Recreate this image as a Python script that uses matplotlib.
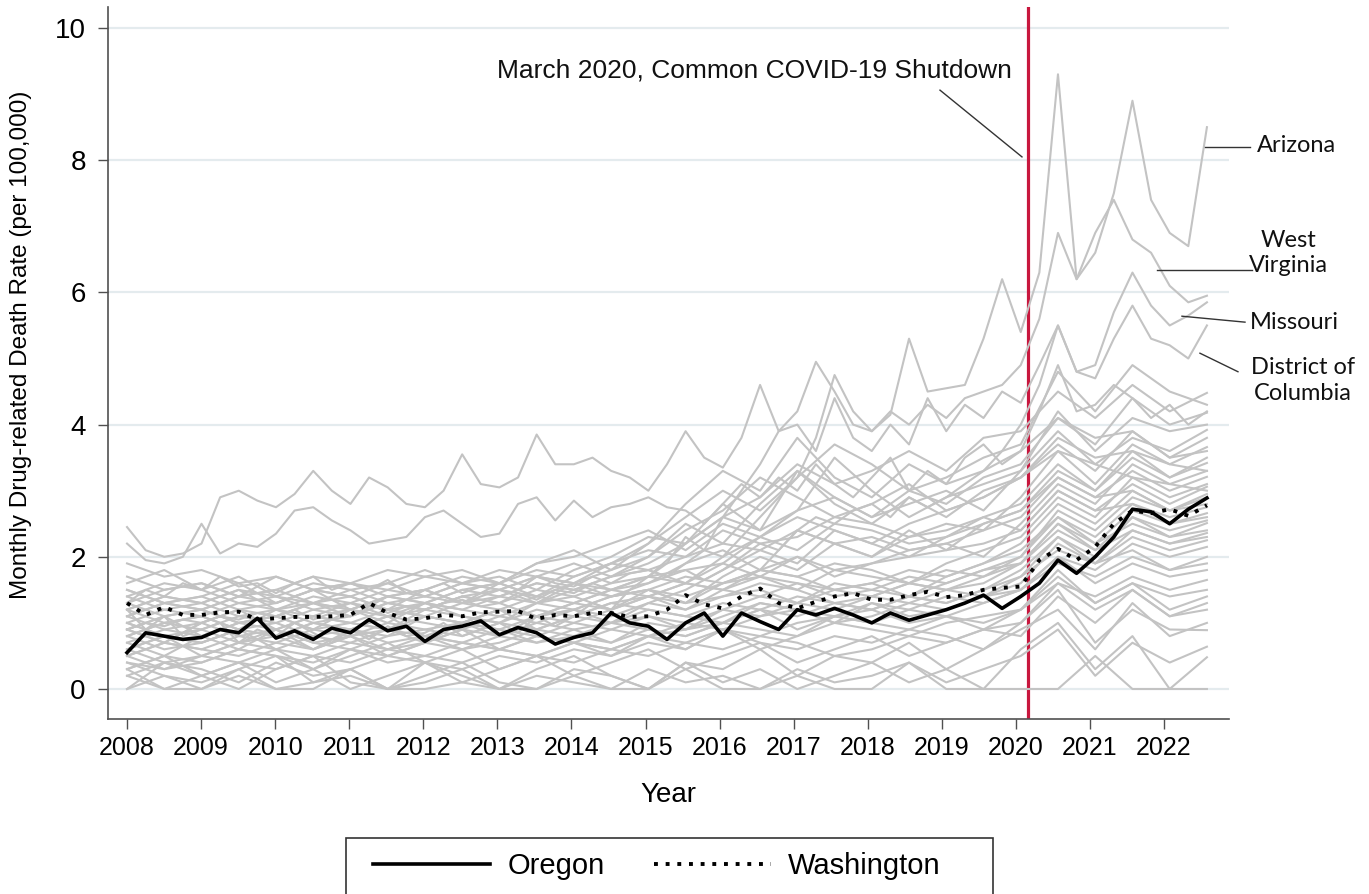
import numpy as np
import matplotlib
matplotlib.use("Agg")
import matplotlib.pyplot as plt
from matplotlib.lines import Line2D
from matplotlib.patches import Rectangle

plt.rcParams['font.family'] = ['Liberation Sans', 'DejaVu Sans']

# time grids: quarterly and half-yearly, Jan 2008 .. Aug 2022
t_q = 2008 + np.arange(59) * (14.58 / 58)
t_h = 2008 + np.arange(30) * (14.58 / 29)

oregon = [0.55, 0.85, 0.80, 0.75, 0.78, 0.90, 0.85, 1.07, 0.77, 0.88, 0.75, 0.92,
          0.85, 1.05, 0.88, 0.95, 0.72, 0.90, 0.95, 1.03, 0.82, 0.93, 0.85, 0.68,
          0.78, 0.85, 1.15, 1.00, 0.95, 0.75, 1.00, 1.15, 0.80, 1.15, 1.02, 0.90,
          1.20, 1.12, 1.22, 1.12, 1.00, 1.15, 1.04, 1.12, 1.20, 1.30, 1.42, 1.22,
          1.40, 1.60, 1.95, 1.75, 2.00, 2.30, 2.72, 2.68, 2.50, 2.72, 2.89]
washington = [1.30, 1.12, 1.24, 1.12, 1.12, 1.16, 1.17, 1.05, 1.07, 1.09, 1.09, 1.10,
              1.12, 1.30, 1.15, 1.05, 1.07, 1.12, 1.10, 1.16, 1.17, 1.18, 1.06, 1.12,
              1.10, 1.15, 1.15, 1.09, 1.10, 1.20, 1.42, 1.28, 1.22, 1.40, 1.52, 1.30,
              1.22, 1.32, 1.40, 1.45, 1.35, 1.35, 1.42, 1.47, 1.39, 1.42, 1.50, 1.53,
              1.55, 1.95, 2.12, 1.95, 2.15, 2.50, 2.70, 2.66, 2.72, 2.62, 2.78]

arizona = [1.30, 1.50, 1.40, 1.60, 1.50, 1.70, 1.55, 1.60, 1.45, 1.60, 1.70, 1.50,
           1.60, 1.50, 1.65, 1.45, 1.50, 1.60, 1.45, 1.55, 1.60, 1.50, 1.70, 1.60,
           1.55, 1.70, 1.60, 1.75, 1.80, 1.70, 1.90, 2.10, 2.00, 2.30, 2.60, 2.90,
           3.20, 3.80, 4.75, 4.20, 3.90, 4.15, 5.30, 4.50, 4.55, 4.60, 5.30, 6.20,
           5.40, 6.30, 9.30, 6.20, 6.60, 7.50, 8.90, 7.40, 6.90, 6.70, 8.50]
west_virginia = [2.45, 2.10, 2.00, 2.05, 2.20, 2.90, 3.00, 2.85, 2.75, 2.95, 3.30, 3.00,
                 2.80, 3.20, 3.05, 2.80, 2.75, 3.00, 3.55, 3.10, 3.05, 3.20, 3.85, 3.40,
                 3.40, 3.50, 3.30, 3.20, 3.00, 3.40, 3.90, 3.50, 3.35, 3.80, 4.60, 3.90,
                 4.20, 4.95, 4.50, 4.00, 3.90, 4.20, 4.00, 4.30, 4.10, 4.40, 4.50, 4.60,
                 4.90, 5.60, 6.90, 6.20, 6.90, 7.40, 6.80, 6.60, 6.10, 5.85, 5.95]
missouri = [0.90, 1.00, 0.95, 1.05, 1.00, 1.10, 1.05, 1.15, 1.10, 1.20, 1.05, 1.15,
            1.20, 1.30, 1.15, 1.25, 1.20, 1.30, 1.35, 1.25, 1.30, 1.45, 1.35, 1.50,
            1.45, 1.60, 1.50, 1.55, 1.60, 1.70, 1.80, 1.65, 1.80, 2.00, 2.20, 2.10,
            2.40, 2.60, 2.50, 2.70, 2.80, 2.60, 2.90, 2.75, 2.90, 3.10, 3.30, 3.60,
            4.00, 4.60, 5.50, 4.80, 4.90, 5.70, 6.30, 5.80, 5.50, 5.65, 5.85]
district_of_columbia = [1.20, 0.90, 1.10, 0.80, 0.90, 1.00, 0.70, 0.90, 0.80, 1.00, 0.85, 0.70,
                        0.90, 0.75, 0.95, 0.80, 0.85, 1.00, 0.80, 0.90, 1.00, 0.85, 1.10, 0.95,
                        1.10, 1.30, 1.20, 1.50, 1.70, 1.90, 2.30, 2.10, 2.60, 3.00, 3.40, 3.90,
                        4.00, 3.60, 4.40, 3.80, 3.60, 4.00, 3.70, 4.40, 3.90, 4.30, 4.10, 4.50,
                        4.33, 4.90, 5.50, 4.80, 4.70, 5.30, 5.80, 5.30, 5.20, 5.00, 5.50]
high_state = [2.20, 1.95, 1.90, 2.00, 2.50, 2.05, 2.20, 2.15, 2.35, 2.70, 2.75, 2.55,
              2.40, 2.20, 2.25, 2.30, 2.60, 2.70, 2.50, 2.30, 2.35, 2.80, 2.90, 2.55,
              2.85, 2.60, 2.75, 2.80, 2.90, 2.75, 2.70, 2.50, 2.80, 3.10, 2.90, 3.20,
              3.00, 3.40, 3.10, 2.90, 3.20, 3.50, 3.00, 3.30, 3.10, 3.50, 3.70, 3.40,
              3.60, 4.20, 4.90, 4.20, 4.30, 4.60, 4.40, 4.10, 4.30, 4.00, 4.20]

# remaining states, half-yearly values
other_states = [
    [1.2, 1.4, 1.3, 1.5, 1.4, 1.3, 1.5, 1.6, 1.4, 1.6, 1.7, 1.5, 1.8, 2.0, 2.3, 2.2, 2.6, 2.9, 3.4, 3.1, 3.3, 3.6, 3.3, 3.8, 3.9, 4.5, 4.1, 4.6, 4.2, 4.48],
    [1.0, 1.2, 1.1, 0.9, 1.2, 1.3, 1.1, 1.4, 1.5, 1.3, 1.6, 1.9, 2.1, 1.8, 2.2, 2.6, 3.0, 2.7, 3.2, 3.7, 3.4, 3.0, 3.2, 3.5, 3.7, 4.8, 4.2, 4.9, 4.5, 4.3],
    [1.7, 1.5, 1.6, 1.4, 1.5, 1.7, 1.6, 1.5, 1.7, 1.8, 1.6, 1.9, 2.0, 2.2, 2.4, 2.1, 2.5, 2.3, 2.7, 2.9, 2.6, 3.0, 2.8, 3.2, 3.4, 4.1, 3.7, 4.4, 4.0, 4.18],
    [0.8, 1.0, 0.9, 1.1, 1.0, 1.2, 1.1, 1.3, 1.2, 1.4, 1.5, 1.3, 1.6, 1.8, 2.0, 2.5, 2.2, 2.8, 3.3, 2.9, 2.6, 2.8, 3.0, 2.7, 3.3, 4.2, 3.6, 4.1, 3.9, 4.0],
    [1.5, 1.3, 1.4, 1.6, 1.3, 1.5, 1.4, 1.2, 1.5, 1.3, 1.4, 1.6, 1.5, 1.7, 1.9, 2.2, 2.8, 2.4, 2.7, 3.5, 3.0, 2.6, 2.9, 3.1, 3.3, 3.9, 3.4, 3.8, 3.6, 3.92],
    [0.6, 0.8, 0.7, 0.9, 0.8, 1.0, 0.9, 0.8, 1.1, 1.0, 1.2, 1.1, 1.3, 1.5, 1.7, 1.6, 1.9, 2.3, 2.6, 2.4, 2.2, 2.5, 2.7, 2.9, 3.2, 3.7, 3.3, 3.9, 3.5, 3.8],
    [1.3, 1.1, 1.2, 1.0, 1.1, 1.3, 1.2, 1.4, 1.3, 1.2, 1.4, 1.3, 1.5, 1.4, 1.6, 1.9, 2.1, 1.8, 2.4, 2.2, 2.0, 2.3, 2.5, 2.4, 2.9, 3.6, 3.1, 3.7, 3.4, 3.66],
    [0.9, 0.7, 1.0, 0.8, 0.9, 1.1, 1.0, 0.9, 1.2, 1.1, 1.0, 1.3, 1.2, 1.4, 1.5, 1.3, 1.7, 2.0, 1.8, 2.2, 2.0, 2.4, 2.1, 2.5, 2.7, 3.3, 3.0, 3.6, 3.2, 3.5],
    [1.1, 1.3, 1.4, 1.2, 1.3, 1.5, 1.6, 1.4, 1.5, 1.7, 1.6, 1.8, 1.7, 1.9, 2.1, 2.0, 2.4, 2.2, 2.3, 2.6, 2.5, 2.3, 2.4, 2.6, 2.8, 3.4, 3.0, 3.5, 3.2, 3.42],
    [0.5, 0.7, 0.6, 0.8, 0.7, 0.6, 0.8, 0.9, 0.7, 1.0, 0.9, 1.1, 1.0, 1.2, 1.4, 1.3, 1.6, 1.8, 2.0, 1.7, 1.9, 2.1, 2.2, 2.0, 2.5, 3.1, 2.8, 3.4, 3.1, 3.3],
    [1.9, 1.7, 1.8, 1.6, 1.7, 1.5, 1.6, 1.8, 1.7, 1.6, 1.8, 1.7, 1.6, 1.9, 1.8, 2.0, 2.2, 2.1, 2.4, 2.2, 2.3, 2.1, 2.2, 2.4, 2.6, 3.2, 2.9, 3.3, 3.0, 3.21],
    [0.7, 0.9, 0.8, 1.0, 1.1, 0.9, 1.0, 1.2, 1.1, 1.0, 1.2, 1.1, 1.3, 1.2, 1.4, 1.6, 1.5, 1.8, 1.7, 1.9, 1.8, 1.6, 1.9, 2.1, 2.3, 2.9, 2.6, 3.2, 2.9, 3.1],
    [1.4, 1.6, 1.5, 1.3, 1.4, 1.2, 1.3, 1.5, 1.4, 1.3, 1.5, 1.4, 1.6, 1.5, 1.7, 1.8, 1.9, 1.7, 2.0, 1.8, 1.9, 2.0, 2.1, 2.2, 2.4, 3.0, 2.7, 3.1, 2.8, 3.06],
    [1.0, 0.8, 0.9, 0.7, 0.8, 1.0, 0.9, 1.1, 1.0, 0.9, 1.1, 1.0, 1.2, 1.1, 1.3, 1.2, 1.4, 1.5, 1.3, 1.6, 1.5, 1.4, 1.6, 1.8, 2.0, 2.7, 2.4, 2.9, 2.7, 2.95],
    [0.3, 0.5, 0.4, 0.6, 0.5, 0.4, 0.6, 0.5, 0.7, 0.6, 0.8, 0.7, 0.9, 1.0, 1.1, 0.9, 1.2, 1.4, 1.3, 1.5, 1.6, 1.4, 1.7, 1.9, 2.2, 2.8, 2.5, 3.0, 2.7, 2.9],
    [1.6, 1.8, 1.5, 1.7, 1.4, 1.6, 1.5, 1.3, 1.4, 1.6, 1.5, 1.7, 1.6, 1.4, 1.5, 1.7, 1.6, 1.8, 1.7, 1.5, 1.6, 1.8, 1.7, 1.9, 2.1, 2.6, 2.3, 2.8, 2.6, 2.75],
    [0.8, 0.6, 0.7, 0.9, 0.6, 0.8, 0.7, 0.9, 0.8, 0.7, 0.9, 0.8, 1.0, 0.9, 1.1, 1.0, 1.2, 1.1, 1.3, 1.2, 1.4, 1.3, 1.5, 1.6, 1.9, 2.5, 2.2, 2.7, 2.5, 2.66],
    [1.2, 1.0, 1.1, 1.3, 1.2, 1.1, 1.3, 1.2, 1.1, 1.3, 1.2, 1.4, 1.3, 1.5, 1.4, 1.6, 1.5, 1.4, 1.6, 1.5, 1.4, 1.6, 1.5, 1.7, 1.9, 2.4, 2.1, 2.6, 2.4, 2.55],
    [0.4, 0.3, 0.5, 0.4, 0.3, 0.5, 0.4, 0.6, 0.5, 0.4, 0.6, 0.5, 0.7, 0.6, 0.8, 0.9, 1.0, 1.2, 1.1, 1.3, 1.2, 1.4, 1.3, 1.5, 1.8, 2.3, 2.0, 2.6, 2.3, 2.51],
    [1.5, 1.3, 1.2, 1.4, 1.3, 1.5, 1.2, 1.1, 1.3, 1.2, 1.1, 1.3, 1.4, 1.2, 1.5, 1.4, 1.6, 1.7, 1.5, 1.8, 1.7, 1.6, 1.8, 1.7, 2.0, 2.6, 2.2, 2.5, 2.3, 2.4],
    [0.6, 0.4, 0.5, 0.7, 0.6, 0.5, 0.7, 0.6, 0.8, 0.7, 0.6, 0.8, 0.7, 0.9, 0.8, 1.0, 0.9, 1.1, 1.2, 1.0, 1.3, 1.1, 1.2, 1.4, 1.6, 2.2, 1.9, 2.4, 2.2, 2.36],
    [1.1, 0.9, 1.0, 1.2, 0.9, 1.1, 1.0, 0.9, 1.1, 1.0, 1.2, 0.9, 1.1, 1.3, 1.2, 1.1, 1.3, 1.2, 1.4, 1.3, 1.2, 1.4, 1.3, 1.5, 1.7, 2.1, 1.9, 2.3, 2.1, 2.25],
    [0.2, 0.4, 0.3, 0.1, 0.4, 0.2, 0.3, 0.5, 0.4, 0.3, 0.5, 0.4, 0.6, 0.5, 0.7, 0.6, 0.9, 0.8, 1.0, 1.1, 1.2, 1.0, 1.1, 1.3, 1.5, 2.0, 1.8, 2.2, 2.0, 2.15],
    [0.9, 1.1, 0.8, 1.0, 0.9, 0.7, 0.8, 1.0, 0.9, 0.8, 1.0, 0.9, 1.1, 1.0, 1.2, 1.1, 1.0, 1.3, 1.2, 1.1, 1.3, 1.2, 1.4, 1.3, 1.5, 1.9, 1.7, 2.0, 1.8, 1.9],
    [0.5, 0.3, 0.4, 0.6, 0.5, 0.3, 0.6, 0.4, 0.5, 0.7, 0.6, 0.5, 0.7, 0.6, 0.8, 0.7, 0.9, 0.6, 0.8, 1.0, 0.9, 0.8, 1.0, 1.1, 1.2, 1.6, 1.4, 1.7, 1.5, 1.65],
    [1.0, 0.8, 0.7, 0.9, 0.8, 0.6, 0.9, 0.7, 0.8, 0.6, 0.7, 0.9, 0.8, 0.7, 0.9, 0.8, 1.0, 0.9, 0.8, 1.1, 1.0, 0.9, 1.1, 1.0, 1.2, 1.7, 1.3, 1.6, 1.4, 1.5],
    [0.3, 0.0, 0.2, 0.4, 0.1, 0.3, 0.0, 0.2, 0.4, 0.1, 0.3, 0.5, 0.2, 0.4, 0.6, 0.3, 0.5, 0.7, 0.4, 0.6, 0.8, 0.5, 0.7, 0.9, 0.8, 1.4, 1.0, 1.5, 1.1, 1.2],
    [0.0, 0.4, 0.2, 0.0, 0.3, 0.5, 0.1, 0.0, 0.4, 0.2, 0.0, 0.3, 0.5, 0.2, 0.0, 0.4, 0.3, 0.6, 0.2, 0.5, 0.4, 0.7, 0.3, 0.6, 0.9, 1.2, 0.6, 1.3, 0.8, 1.0],
    [0.6, 0.8, 0.5, 0.7, 0.9, 0.6, 0.8, 0.5, 0.7, 0.9, 0.6, 0.8, 0.7, 0.5, 0.8, 0.6, 0.9, 0.7, 0.6, 0.8, 0.7, 0.9, 0.8, 0.6, 1.0, 1.5, 0.7, 1.2, 0.9, 0.89],
    [0.0, 0.2, 0.1, 0.3, 0.0, 0.1, 0.2, 0.0, 0.1, 0.3, 0.0, 0.2, 0.1, 0.0, 0.3, 0.1, 0.2, 0.0, 0.3, 0.1, 0.2, 0.4, 0.1, 0.3, 0.5, 0.9, 0.2, 0.7, 0.4, 0.64],
    [0.4, 0.2, 0.0, 0.3, 0.5, 0.1, 0.3, 0.0, 0.2, 0.4, 0.1, 0.0, 0.3, 0.2, 0.0, 0.4, 0.1, 0.3, 0.0, 0.2, 0.4, 0.1, 0.3, 0.0, 0.6, 1.0, 0.3, 0.8, 0.0, 0.48],
    [0.2, 0.0, 0.0, 0.2, 0.0, 0.0, 0.3, 0.0, 0.0, 0.1, 0.0, 0.0, 0.2, 0.0, 0.0, 0.3, 0.0, 0.0, 0.2, 0.0, 0.0, 0.4, 0.0, 0.0, 0.0, 0.0, 0.5, 0.0, 0.0, 0.0],
    [1.3, 1.5, 1.6, 1.4, 1.7, 1.5, 1.4, 1.6, 1.8, 1.6, 1.5, 1.7, 1.9, 1.7, 2.0, 2.4, 2.7, 3.2, 2.9, 2.6, 2.8, 3.1, 2.7, 2.9, 3.2, 3.8, 3.5, 3.6, 3.4, 3.3],
    [0.7, 0.5, 0.8, 0.6, 0.9, 0.7, 0.6, 0.8, 0.9, 1.0, 0.8, 1.1, 1.2, 1.0, 1.3, 1.5, 1.8, 2.1, 1.9, 2.4, 2.2, 2.0, 2.3, 2.5, 2.7, 3.2, 2.9, 3.0, 2.7, 2.8],
    [0.8, 1.0, 1.1, 0.9, 1.0, 0.8, 0.9, 1.1, 0.8, 1.0, 0.9, 0.7, 0.8, 1.0, 0.9, 0.8, 1.0, 1.2, 0.9, 1.1, 1.0, 1.2, 1.1, 0.9, 1.2, 1.8, 1.3, 1.6, 1.2, 1.4],
    [1.2, 1.4, 1.3, 1.1, 1.2, 1.0, 1.1, 1.3, 1.2, 1.4, 1.3, 1.1, 1.2, 1.4, 1.5, 1.3, 1.4, 1.6, 1.5, 1.3, 1.4, 1.6, 1.5, 1.4, 1.7, 2.3, 1.9, 2.1, 1.8, 2.0],
    [0.9, 1.1, 1.2, 1.0, 1.1, 1.3, 1.2, 1.4, 1.3, 1.5, 1.6, 1.4, 1.7, 1.9, 2.2, 2.8, 3.3, 3.0, 3.8, 3.2, 2.9, 3.4, 3.1, 3.3, 3.6, 4.1, 3.8, 3.9, 3.5, 3.6],
    [0.5, 0.7, 0.6, 0.5, 0.7, 0.9, 0.8, 0.6, 0.7, 0.9, 0.8, 1.0, 0.9, 0.7, 1.0, 0.9, 1.1, 1.3, 1.2, 1.0, 1.1, 1.3, 1.2, 1.4, 1.5, 2.0, 1.6, 1.9, 1.7, 1.8],
    [1.1, 1.3, 1.2, 1.4, 1.5, 1.3, 1.4, 1.2, 1.3, 1.5, 1.4, 1.6, 1.5, 1.7, 1.8, 1.6, 2.0, 2.3, 2.1, 2.5, 2.4, 2.2, 2.3, 2.6, 2.4, 3.0, 2.7, 2.8, 2.5, 2.6],
    [0.3, 0.5, 0.2, 0.4, 0.6, 0.3, 0.5, 0.7, 0.4, 0.6, 0.3, 0.5, 0.4, 0.6, 0.5, 0.7, 0.6, 0.8, 0.7, 0.5, 0.6, 0.8, 0.7, 0.9, 1.0, 1.6, 1.2, 1.5, 1.1, 1.3],
    [1.4, 1.2, 1.3, 1.5, 1.2, 1.4, 1.3, 1.1, 1.2, 1.4, 1.3, 1.5, 1.4, 1.6, 1.7, 2.2, 2.6, 2.4, 3.3, 2.8, 2.5, 2.9, 2.6, 3.0, 3.2, 3.6, 3.4, 3.2, 3.1, 3.0],
    [0.9, 0.7, 1.0, 1.2, 1.1, 0.9, 1.2, 1.0, 1.3, 1.1, 1.0, 1.2, 1.1, 1.3, 1.4, 1.2, 1.5, 1.7, 1.6, 1.4, 1.5, 1.7, 1.6, 1.8, 1.9, 2.5, 2.1, 2.4, 2.2, 2.3],
]

year_ticks = list(range(2008, 2023))
rate_ticks = [0, 2, 4, 6, 8, 10]
shutdown = 2020 + 2 / 12

W, H = 1369, 894
fig = plt.figure(figsize=(W / 100, H / 100), dpi=100)
ax = fig.add_axes([108 / W, 1 - 719 / H, (1229 - 108) / W, (719 - 7) / H])

for r in rate_ticks:
    ax.axhline(r, color='#E4EBEE', lw=1.6, zorder=0)
ax.axvline(shutdown, color='#C8173E', lw=2.3, zorder=1)

gray = '#C3C3C3'
for vals in other_states:
    ax.plot(t_h, vals, color=gray, lw=1.5, zorder=2)
for vals in [high_state, district_of_columbia, missouri, west_virginia, arizona]:
    ax.plot(t_q, vals, color=gray, lw=1.5, zorder=2)

ax.plot(t_q, oregon, color='black', lw=2.6, zorder=4)
ax.plot(t_q, washington, color='black', lw=2.8, ls=(0, (1, 2.0)), zorder=4)

ax.set_xlim(2007.743, 2022.878)
ax.set_ylim(-0.454, 10.318)
ax.set_xticks(year_ticks)
ax.set_yticks(rate_ticks)
for s in ['top', 'right']:
    ax.spines[s].set_visible(False)
for s in ['left', 'bottom']:
    ax.spines[s].set_color('#505050')
    ax.spines[s].set_linewidth(1.2)
ax.tick_params(axis='x', length=7, width=1, color='#505050', labelsize=18, pad=5)
ax.tick_params(axis='y', length=7, width=1, color='#505050', labelsize=20, pad=9)

ax.set_xlabel('Year', fontsize=20)
ax.xaxis.set_label_coords(0.5, -0.088)
ax.set_ylabel('Monthly Drug-related Death Rate (per 100,000)', fontsize=17.5)
ax.yaxis.set_label_coords(-0.068, 0.525)

# annotations
ann = dict(color='#333333', lw=1.0, clip_on=False, zorder=5)
ax.text(2019.95, 9.36, 'March 2020, Common COVID-19 Shutdown', fontsize=19,
        ha='right', va='center', color='#111111')
ax.plot([2018.976, 2020.083], [9.06, 8.05], **ann)

lab = dict(family=['Lato', 'DejaVu Sans'], fontsize=17, color='#111111', va='center')
ax.plot([2022.554, 2023.16], [8.2, 8.2], **ann)
ax.text(2023.256, 8.23, 'Arizona', ha='left', **lab)
ax.plot([2021.906, 2023.19], [6.34, 6.34], **ann)
ax.text(2023.68, 6.6, 'West\nVirginia', ha='center', linespacing=1.25, **lab)
ax.plot([2022.243, 2023.094], [5.64, 5.55], **ann)
ax.text(2023.16, 5.55, 'Missouri', ha='left', **lab)
ax.plot([2022.486, 2022.999], [5.08, 4.80], **ann)
ax.text(2023.88, 4.67, 'District of\nColumbia', ha='center', linespacing=1.3, **lab)

# legend, box runs off the bottom edge
fig.patches.append(Rectangle((346 / W, -0.05), (993 - 346) / W, 0.05 + 1 - 838 / H,
                             transform=fig.transFigure, fill=False, ec='#333333', lw=1.2))
handles = [Line2D([], [], color='black', lw=2.6),
           Line2D([], [], color='black', lw=2.8, ls=(0, (1, 2.0)))]
fig.legend(handles, ['Oregon', 'Washington'], loc='center', bbox_to_anchor=(657 / W, 1 - 866 / H),
           ncol=2, frameon=False, fontsize=21, handlelength=4.0, handletextpad=0.6,
           columnspacing=1.7, borderpad=0)

fig.savefig('out.png', dpi=100)
